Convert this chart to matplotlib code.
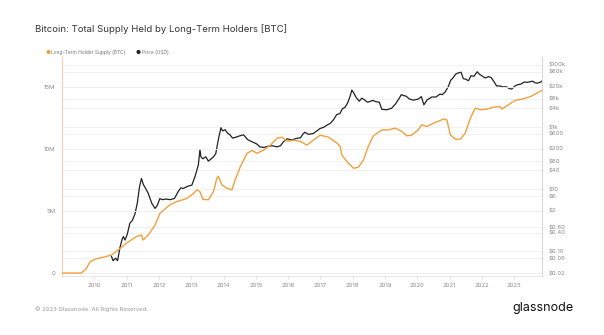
import numpy as np
import matplotlib
matplotlib.use("Agg")
import matplotlib.pyplot as plt
from matplotlib.ticker import FixedLocator, NullLocator

plt.rcParams['font.family'] = ['Inter', 'DejaVu Sans']

# --- DATA ---
# Long-term holder supply, millions of BTC, by decimal year
lth_year = [2009.00, 2009.60, 2009.75, 2009.87, 2010.05, 2010.27, 2010.53, 2010.74, 2010.99,
            2011.30, 2011.46, 2011.51, 2011.67, 2011.88, 2012.03, 2012.34, 2012.55, 2012.86,
            2013.07, 2013.17, 2013.27, 2013.36, 2013.53, 2013.69, 2013.79, 2013.84, 2013.95,
            2014.10, 2014.26, 2014.36, 2014.52, 2014.73, 2014.88, 2015.04, 2015.24, 2015.45,
            2015.66, 2015.81, 2015.97, 2016.18, 2016.38, 2016.58, 2016.78, 2016.99, 2017.25,
            2017.51, 2017.61, 2017.66, 2017.82, 2018.02, 2018.17, 2018.33, 2018.48, 2018.64,
            2018.90, 2019.10, 2019.31, 2019.52, 2019.67, 2019.82, 2020.03, 2020.13, 2020.29,
            2020.50, 2020.81, 2020.91, 2021.02, 2021.17, 2021.33, 2021.48, 2021.64, 2021.79,
            2021.95, 2022.15, 2022.36, 2022.56, 2022.61, 2022.82, 2023.02, 2023.23, 2023.49,
            2023.70, 2023.85]
lth_supply = [0.00, 0.00, 0.35, 0.91, 1.15, 1.27, 1.45, 1.85, 2.40,
              2.93, 3.06, 2.66, 3.06, 3.87, 4.80, 5.50, 5.75, 6.00,
              6.40, 6.70, 6.56, 5.94, 5.90, 6.56, 7.60, 7.80, 7.10,
              6.83, 6.70, 7.50, 8.57, 9.65, 9.86, 9.65, 9.90, 10.30,
              10.86, 10.94, 10.60, 10.70, 10.60, 10.30, 10.70, 11.10, 10.94,
              10.46, 10.20, 9.50, 8.97, 8.44, 8.52, 9.10, 10.20, 11.05,
              11.53, 11.53, 11.67, 11.40, 11.05, 11.10, 11.53, 11.94, 11.80,
              12.07, 12.40, 12.34, 11.13, 10.78, 10.78, 11.27, 12.48, 13.28,
              13.15, 13.20, 13.36, 13.40, 13.20, 13.55, 13.90, 14.00, 14.20,
              14.49, 14.70]

# BTC price in USD, by decimal year
price_year = [2010.53, 2010.58, 2010.66, 2010.72, 2010.80, 2010.86, 2010.90, 2010.95, 2011.02,
              2011.10, 2011.18, 2011.26, 2011.33, 2011.40, 2011.46, 2011.52, 2011.58, 2011.67,
              2011.78, 2011.88, 2011.95, 2012.03, 2012.10, 2012.22, 2012.35, 2012.48, 2012.60,
              2012.68, 2012.75, 2012.90, 2013.02, 2013.12, 2013.22, 2013.27, 2013.30, 2013.36,
              2013.45, 2013.53, 2013.62, 2013.69, 2013.76, 2013.84, 2013.92, 2013.97, 2014.05,
              2014.12, 2014.20, 2014.28, 2014.38, 2014.50, 2014.62, 2014.75, 2014.90, 2015.04,
              2015.12, 2015.24, 2015.38, 2015.50, 2015.66, 2015.76, 2015.85, 2015.97, 2016.10,
              2016.25, 2016.38, 2016.46, 2016.52, 2016.62, 2016.78, 2016.99, 2017.10, 2017.20,
              2017.30, 2017.40, 2017.50, 2017.60, 2017.68, 2017.76, 2017.84, 2017.92, 2017.97,
              2018.04, 2018.10, 2018.20, 2018.28, 2018.36, 2018.45, 2018.51, 2018.62, 2018.72,
              2018.82, 2018.90, 2019.05, 2019.20, 2019.32, 2019.44, 2019.50, 2019.55, 2019.65,
              2019.75, 2019.88, 2020.03, 2020.12, 2020.20, 2020.30, 2020.45, 2020.57, 2020.70,
              2020.77, 2020.86, 2020.95, 2021.03, 2021.10, 2021.18, 2021.26, 2021.35, 2021.42,
              2021.48, 2021.58, 2021.66, 2021.75, 2021.85, 2021.92, 2022.00, 2022.10, 2022.20,
              2022.28, 2022.36, 2022.45, 2022.55, 2022.65, 2022.75, 2022.86, 2022.92, 2023.02,
              2023.10, 2023.20, 2023.30, 2023.40, 2023.48, 2023.56, 2023.64, 2023.72, 2023.80,
              2023.85]
price_usd = [0.07, 0.05, 0.06, 0.05, 0.14, 0.24, 0.30, 0.23, 0.35,
             0.80, 1.00, 1.60, 3.50, 12.0, 22.0, 14.0, 11.0, 7.3,
             3.5, 2.4, 3.0, 5.0, 4.6, 4.8, 4.6, 5.0, 8.5,
             11.0, 10.5, 12.5, 13.5, 26.0, 60.0, 190.0, 110.0, 95.0,
             110.0, 80.0, 95.0, 110.0, 140.0, 400.0, 950.0, 750.0, 820.0,
             640.0, 560.0, 440.0, 470.0, 520.0, 560.0, 390.0, 330.0, 280.0,
             230.0, 220.0, 240.0, 250.0, 230.0, 250.0, 330.0, 420.0, 380.0,
             430.0, 450.0, 600.0, 680.0, 580.0, 620.0, 900.0, 980.0, 1150.0,
             1300.0, 1700.0, 2500.0, 2700.0, 3900.0, 4300.0, 6000.0, 10000.0, 15500.0,
             12000.0, 9000.0, 6800.0, 8500.0, 7500.0, 6300.0, 6500.0, 7200.0, 6500.0,
             6300.0, 3700.0, 3600.0, 4000.0, 5500.0, 8500.0, 11000.0, 10500.0, 9800.0,
             8000.0, 7300.0, 8000.0, 9500.0, 5200.0, 7500.0, 9300.0, 9200.0, 11500.0,
             11000.0, 13500.0, 19500.0, 32000.0, 38000.0, 50000.0, 55000.0, 58000.0, 36000.0,
             35000.0, 31000.0, 45000.0, 43000.0, 60000.0, 50000.0, 44000.0, 38000.0, 42000.0,
             39000.0, 30000.0, 21000.0, 21000.0, 19500.0, 19800.0, 17000.0, 16800.0, 21000.0,
             23000.0, 24000.0, 28000.0, 27500.0, 28500.0, 30000.0, 26500.0, 26000.0, 27500.0,
             30000.0]

price_ticks = [0.02, 0.06, 0.10, 0.40, 0.60, 2, 6, 10, 40, 80, 200, 600,
               1000, 4000, 8000, 20000, 60000, 100000]
price_tick_labels = ['$0.02', '$0.06', '$0.10', '$0.40', '$0.60', '$2', '$6', '$10',
                     '$40', '$80', '$200', '$600', '$1k', '$4k', '$8k', '$20k',
                     '$60k', '$100k']
supply_ticks = [0, 5, 10, 15]
supply_tick_labels = ['0', '5M', '10M', '15M']
years = list(range(2010, 2024))

orange = '#f2a03d'
grid_c = '#efefef'
text_c = '#8a8a8a'

fig = plt.figure(figsize=(6.04, 3.35), dpi=100)
ax = fig.add_axes([0.1026, 0.176, 0.795, 0.654])
ax2 = ax.twinx()

# price on log axis (drawn on twin, behind supply)
ax2.set_yscale('log')
ax2.plot(price_year, price_usd, color='#222222', lw=0.9, zorder=2)
ax2.set_ylim(0.016, 180000)
ax2.yaxis.set_major_locator(FixedLocator(price_ticks))
ax2.yaxis.set_minor_locator(NullLocator())
ax2.set_yticklabels(price_tick_labels)
ax2.grid(True, axis='y', color=grid_c, lw=0.6, zorder=0)

ax.plot(lth_year, lth_supply, color=orange, lw=1.0, zorder=3)
ax.set_ylim(-0.24, 17.4)
ax.set_xlim(2009.0, 2023.86)
ax.set_yticks(supply_ticks)
ax.set_yticklabels(supply_tick_labels)
ax.set_xticks(years)
ax.set_xticklabels([str(y) for y in years])
ax.grid(True, axis='y', color=grid_c, lw=0.6)

# keep the orange supply line above the price line
ax.set_zorder(ax2.get_zorder() + 1)
ax.patch.set_visible(False)

for a in (ax, ax2):
    a.tick_params(axis='both', length=0, labelsize=4.3, labelcolor=text_c, pad=5)
    for s in a.spines.values():
        s.set_visible(False)
ax.tick_params(axis='x', length=2, color='#dddddd', pad=3)
ax.tick_params(axis='y', pad=5)
ax2.tick_params(axis='y', pad=5)
ax.spines['left'].set_visible(True)
ax.spines['left'].set_color('#f6d3a8')
ax.spines['left'].set_linewidth(0.8)
ax2.spines['right'].set_visible(True)
ax2.spines['right'].set_color('#d8d8d8')
ax2.spines['right'].set_linewidth(0.8)
ax.spines['bottom'].set_visible(True)
ax.spines['bottom'].set_color('#e4e4e4')
ax.spines['bottom'].set_linewidth(0.6)

# title, legend, footer
fig.text(0.058, 0.912, 'Bitcoin: Total Supply Held by Long-Term Holders [BTC]',
         fontsize=6.9, color='#333333', va='center')
fig.text(0.075, 0.842, '●', fontsize=4, color=orange, va='center')
fig.text(0.085, 0.842, 'Long-Term Holder Supply (BTC)', fontsize=3.5, color='#777777', va='center')
fig.text(0.225, 0.842, '●', fontsize=4, color='#222222', va='center')
fig.text(0.235, 0.842, 'Price (USD)', fontsize=3.5, color='#777777', va='center')
fig.text(0.058, 0.077, '© 2023 Glassnode. All Rights Reserved.', fontsize=4.3,
         color='#999999', va='center')
fig.text(0.848, 0.08, 'glassnode', fontsize=9, color='#111111', va='center')

fig.savefig('out.png', dpi=100, facecolor='white')
